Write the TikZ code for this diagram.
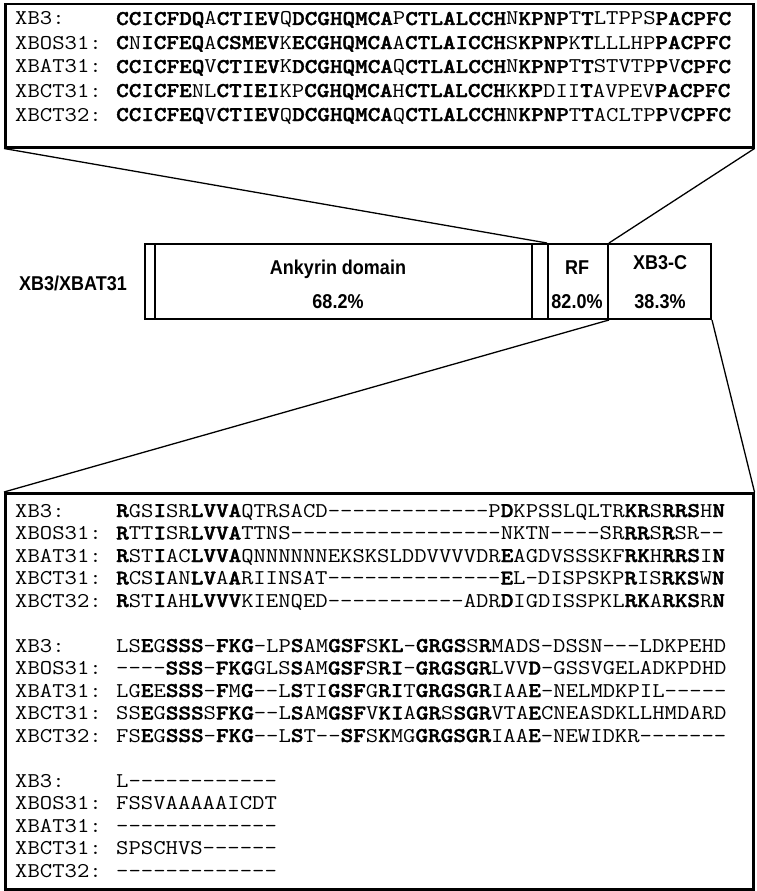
\documentclass[tikz,border=0pt]{standalone}
\usepackage{fontspec}
\setmainfont{Liberation Sans}
\newfontfamily\consfont{lmmonolt10-bold.otf}[FakeBold=1.6]
\newcommand{\cons}[1]{{\consfont #1}}
\newcommand{\sq}[1]{\scalebox{1.143}[1]{#1}}
\newcommand{\nar}[1]{\scalebox{0.9}[1]{#1}}
\tikzset{
  seq/.style={anchor=base west, inner sep=0pt, font=\fontsize{21}{21}\selectfont\ttfamily},
  dom/.style={draw, line width=2pt, minimum height=75pt, inner sep=0pt, anchor=north west},
  lbl/.style={anchor=base, inner sep=0pt, font=\fontsize{20}{20}\selectfont\bfseries},
  frame/.style={draw, line width=2.5pt, inner sep=0pt, anchor=north west},
  zoomline/.style={line width=1.3pt}
}
\begin{document}
\begin{tikzpicture}[x=1pt,y=-1pt]
\useasboundingbox (0,0) rectangle (756,891);

% top alignment
\node[frame, minimum width=748pt, minimum height=143pt] (top) at (4,3) {};
\node[seq] (tn1) at (15,25) {\sq{XB3:}};
\node[seq] (ts1) at (116,25) {\sq{\cons{CCICFDQ}A\cons{CTIEV}Q\cons{DCGHQMCA}P\cons{CTLALCCH}N\cons{KPNP}T\cons{T}LTPPS\cons{PACPFC}}};
\node[seq] (tn2) at (15,49) {\sq{XBOS31:}};
\node[seq] (ts2) at (116,49) {\sq{\cons{C}N\cons{ICFEQ}A\cons{CSMEV}K\cons{ECGHQMCA}A\cons{CTLAICCH}S\cons{KPNP}K\cons{T}LLLHP\cons{PACPFC}}};
\node[seq] (tn3) at (15,73) {\sq{XBAT31:}};
\node[seq] (ts3) at (116,73) {\sq{\cons{CCICFEQ}V\cons{CTIEV}K\cons{DCGHQMCA}Q\cons{CTLALCCH}N\cons{KPNP}T\cons{T}STVTP\cons{P}V\cons{CPFC}}};
\node[seq] (tn4) at (15,97) {\sq{XBCT31:}};
\node[seq] (ts4) at (116,97) {\sq{\cons{CCICFE}NL\cons{CTIEI}KP\cons{CGHQMCA}H\cons{CTLALCCH}K\cons{KP}DII\cons{T}AVPEV\cons{PACPFC}}};
\node[seq] (tn5) at (15,121) {\sq{XBCT32:}};
\node[seq] (ts5) at (116,121) {\sq{\cons{CCICFEQ}V\cons{CTIEV}Q\cons{DCGHQMCA}Q\cons{CTLALCCH}N\cons{KPNP}T\cons{T}ACLTP\cons{P}V\cons{CPFC}}};

% domain bar
\node[lbl] (prot) at (73,290) {\nar{XB3/XBAT31}};
\node[dom, minimum width=10pt] (nt) at (144,243) {};
\node[dom, minimum width=377pt] (ank) at (154,243) {};
\node[dom, minimum width=16pt] (lnk) at (531,243) {};
\node[dom, minimum width=60pt] (rf) at (547,243) {};
\node[dom, minimum width=103pt] (xbc) at (607,243) {};
\node[lbl] (ankname) at (338,274) {\nar{Ankyrin domain}};
\node[lbl] (ankval) at (338,308) {\nar{68.2\%}};
\node[lbl] (rfname) at (577,274) {\nar{RF}};
\node[lbl] (rfval) at (577,308) {\nar{82.0\%}};
\node[lbl] (xbcname) at (660,269) {\nar{XB3-C}};
\node[lbl] (xbcval) at (660,308) {\nar{38.3\%}};

% bottom alignment
\node[frame, minimum width=748pt, minimum height=396pt] (bot) at (4,492) {};
\node[seq] (bn1) at (15,517) {\sq{XB3:}};
\node[seq] (bs1) at (116,517) {\sq{\cons{R}GS\cons{I}SR\cons{LVVA}QTRSACD-------------P\cons{D}KPSSLQLTR\cons{KR}S\cons{RRS}H\cons{N}}};
\node[seq] (bn2) at (15,539.5) {\sq{XBOS31:}};
\node[seq] (bs2) at (116,539.5) {\sq{\cons{R}TT\cons{I}SR\cons{LVVA}TTNS-----------------NKTN----SR\cons{RR}S\cons{R}SR--}};
\node[seq] (bn3) at (15,562) {\sq{XBAT31:}};
\node[seq] (bs3) at (116,562) {\sq{\cons{R}ST\cons{I}AC\cons{LVVA}QNNNNNNEKSKSLDDVVVVDR\cons{E}AGDVSSSKF\cons{RK}H\cons{RRS}I\cons{N}}};
\node[seq] (bn4) at (15,584.5) {\sq{XBCT31:}};
\node[seq] (bs4) at (116,584.5) {\sq{\cons{R}CS\cons{I}AN\cons{LV}A\cons{A}RIINSAT--------------\cons{E}L-DISPSKP\cons{R}IS\cons{RKS}W\cons{N}}};
\node[seq] (bn5) at (15,607) {\sq{XBCT32:}};
\node[seq] (bs5) at (116,607) {\sq{\cons{R}ST\cons{I}AH\cons{LVVV}KIENQED-----------ADR\cons{D}IGDISSPKL\cons{RK}A\cons{RKS}R\cons{N}}};

\node[seq] (bn6) at (15,652) {\sq{XB3:}};
\node[seq] (bs6) at (116,652) {\sq{LS\cons{E}G\cons{SSS}-\cons{FKG}-LP\cons{S}AM\cons{GSF}S\cons{KL}-\cons{GRGS}S\cons{R}MADS-DSSN---LDKPEHD}};
\node[seq] (bn7) at (15,674.5) {\sq{XBOS31:}};
\node[seq] (bs7) at (116,674.5) {\sq{----\cons{SSS}-\cons{FKG}GLS\cons{S}AM\cons{GSF}S\cons{RI}-\cons{GRGSGR}LVV\cons{D}-GSSVGELADKPDHD}};
\node[seq] (bn8) at (15,697) {\sq{XBAT31:}};
\node[seq] (bs8) at (116,697) {\sq{LG\cons{E}E\cons{SSS}-\cons{F}M\cons{G}--L\cons{S}TI\cons{GSF}G\cons{RI}T\cons{GRGSGR}IAA\cons{E}-NELMDKPIL-----}};
\node[seq] (bn9) at (15,719.5) {\sq{XBCT31:}};
\node[seq] (bs9) at (116,719.5) {\sq{SS\cons{E}G\cons{SSS}S\cons{FKG}--L\cons{S}AM\cons{GSF}V\cons{KI}A\cons{GR}S\cons{SGR}VTA\cons{E}CNEASDKLLHMDARD}};
\node[seq] (bn10) at (15,742) {\sq{XBCT32:}};
\node[seq] (bs10) at (116,742) {\sq{FS\cons{E}G\cons{SSS}-\cons{FKG}--L\cons{S}T--\cons{SF}S\cons{K}MG\cons{GRGSGR}IAA\cons{E}-NEWIDKR-------}};

\node[seq] (bn11) at (15,787) {\sq{XB3:}};
\node[seq] (bs11) at (116,787) {\sq{L------------}};
\node[seq] (bn12) at (15,809.5) {\sq{XBOS31:}};
\node[seq] (bs12) at (116,809.5) {\sq{FSSVAAAAAICDT}};
\node[seq] (bn13) at (15,832) {\sq{XBAT31:}};
\node[seq] (bs13) at (116,832) {\sq{-------------}};
\node[seq] (bn14) at (15,854.5) {\sq{XBCT31:}};
\node[seq] (bs14) at (116,854.5) {\sq{SPSCHVS------}};
\node[seq] (bn15) at (15,877) {\sq{XBCT32:}};
\node[seq] (bs15) at (116,877) {\sq{-------------}};

% zoom lines
\draw[zoomline] (top.south west) -- (rf.north west);
\draw[zoomline] (top.south east) -- (rf.north east);
\draw[zoomline] (rf.south east) -- (bot.north west);
\draw[zoomline] (xbc.south east) -- (bot.north east);
\end{tikzpicture}
\end{document}
